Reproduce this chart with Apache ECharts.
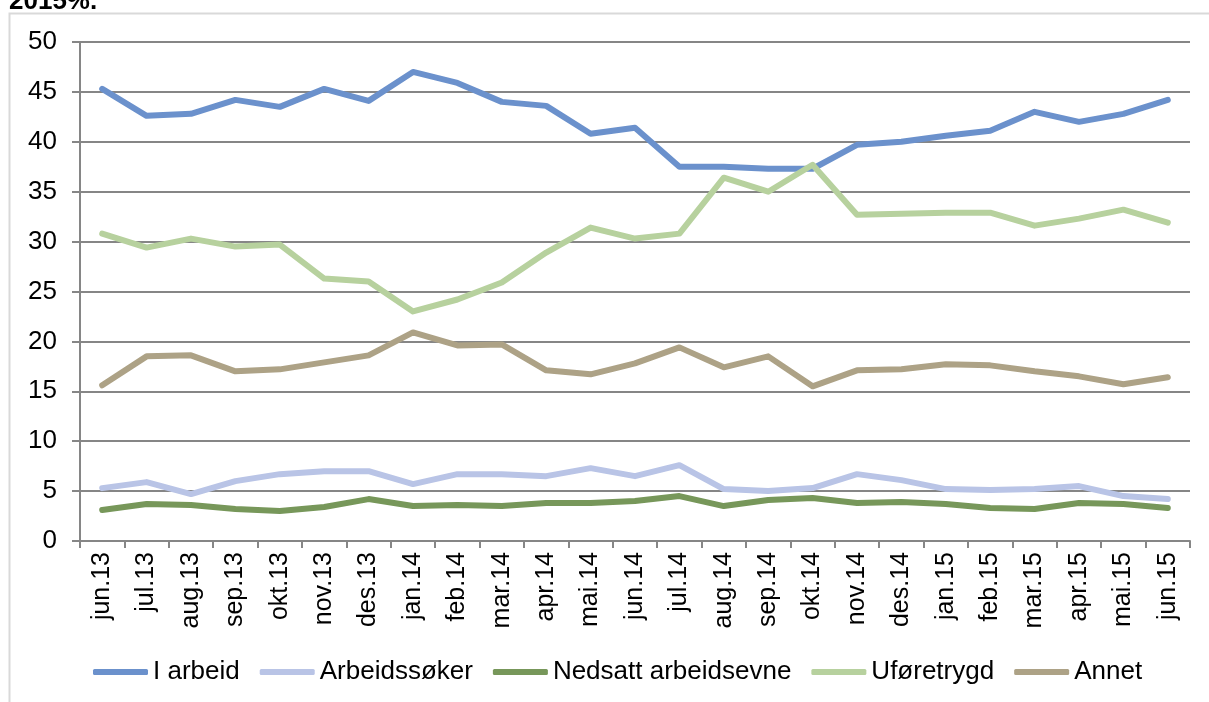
<!DOCTYPE html>
<html lang="no">
<head>
	<meta charset="UTF-8">
	<title>Status</title>
	<style>
		html, body { margin: 0; padding: 0; background: #fff; }
		#chart { width: 1209px; height: 702px; }
	</style>
</head>
<body>
	<div id="chart"></div>
<script src="https://cdn.jsdelivr.net/npm/echarts@6/dist/echarts.min.js"></script>
<script>
    // kategorier (måneder)
    var months = ['jun.13','jul.13','aug.13','sep.13','okt.13','nov.13','des.13',
        'jan.14','feb.14','mar.14','apr.14','mai.14','jun.14','jul.14','aug.14','sep.14','okt.14','nov.14','des.14',
        'jan.15','feb.15','mar.15','apr.15','mai.15','jun.15'];

    var iArbeid = [45.3,42.6,42.8,44.2,43.5,45.3,44.1,47.0,45.9,44.0,43.6,40.8,41.4,37.5,37.5,37.3,37.3,39.7,40.0,40.6,41.1,43.0,42.0,42.8,44.2];
    var arbeidssoker = [5.3,5.9,4.7,6.0,6.7,7.0,7.0,5.7,6.7,6.7,6.5,7.3,6.5,7.6,5.2,5.0,5.3,6.7,6.1,5.2,5.1,5.2,5.5,4.5,4.2];
    var nedsatt = [3.1,3.7,3.6,3.2,3.0,3.4,4.2,3.5,3.6,3.5,3.8,3.8,4.0,4.5,3.5,4.1,4.3,3.8,3.9,3.7,3.3,3.2,3.8,3.7,3.3];
    var uforetrygd = [30.8,29.4,30.3,29.5,29.7,26.3,26.0,23.0,24.2,25.9,28.9,31.4,30.3,30.8,36.4,35.0,37.7,32.7,32.8,32.9,32.9,31.6,32.3,33.2,31.9];
    var annet = [15.6,18.5,18.6,17.0,17.2,17.9,18.6,20.9,19.6,19.7,17.1,16.7,17.8,19.4,17.4,18.5,15.5,17.1,17.2,17.7,17.6,17.0,16.5,15.7,16.4];

    var yTicks = { min: 0, max: 50, interval: 5 };

    var font = 'Liberation Sans, Arial, sans-serif';
    var grey = '#868686';

    function serie(name, data, color) {
        return {
            name: name,
            type: 'line',
            data: data,
            symbol: 'none',
            lineStyle: { width: 6, color: color, cap: 'round', join: 'round' },
            itemStyle: { color: color }
        };
    }

    var myChart = echarts.init(document.getElementById('chart'));
    var option = {
        animation: false,
        textStyle: { fontFamily: font },
        graphic: [
            {
                type: 'rect',
                shape: { x: 9.5, y: 13.5, width: 1300, height: 800 },
                style: { fill: 'none', stroke: '#d9d9d9', lineWidth: 2 },
                silent: true
            },
            {
                type: 'text',
                left: 9, top: -11,
                style: { text: '2015%.', font: 'bold 26px ' + font, fill: '#000' }
            }
        ],
        grid: { left: 80, right: 19, top: 42, bottom: 161 },
        legend: {
            top: 654,
            left: 88,
            icon: 'roundRect',
            itemWidth: 55,
            itemHeight: 6,
            itemGap: 20,
            textStyle: { fontSize: 26, color: '#000', fontFamily: font },
            data: ['I arbeid', 'Arbeidssøker', 'Nedsatt arbeidsevne', 'Uføretrygd', 'Annet']
        },
        xAxis: {
            type: 'category',
            data: months,
            boundaryGap: true,
            axisLine: { lineStyle: { color: grey, width: 2 } },
            axisTick: { show: true, length: 7, lineStyle: { color: grey, width: 2 } },
            axisLabel: { rotate: 90, interval: 0, fontSize: 25, color: '#000', margin: 11 }
        },
        yAxis: {
            type: 'value',
            min: yTicks.min,
            max: yTicks.max,
            interval: yTicks.interval,
            axisLine: { show: true, lineStyle: { color: grey, width: 2 } },
            axisTick: { show: true, length: 8, lineStyle: { color: grey, width: 2 } },
            axisLabel: { fontSize: 26, color: '#000', margin: 23 },
            splitLine: { lineStyle: { color: grey, width: 2 } }
        },
        series: [
            serie('I arbeid', iArbeid, '#6b91cc'),
            serie('Arbeidssøker', arbeidssoker, '#b9c4e6'),
            serie('Nedsatt arbeidsevne', nedsatt, '#77975a'),
            serie('Uføretrygd', uforetrygd, '#b7d19e'),
            serie('Annet', annet, '#ada286')
        ]
    };
    myChart.setOption(option);
</script>
</body>
</html>
